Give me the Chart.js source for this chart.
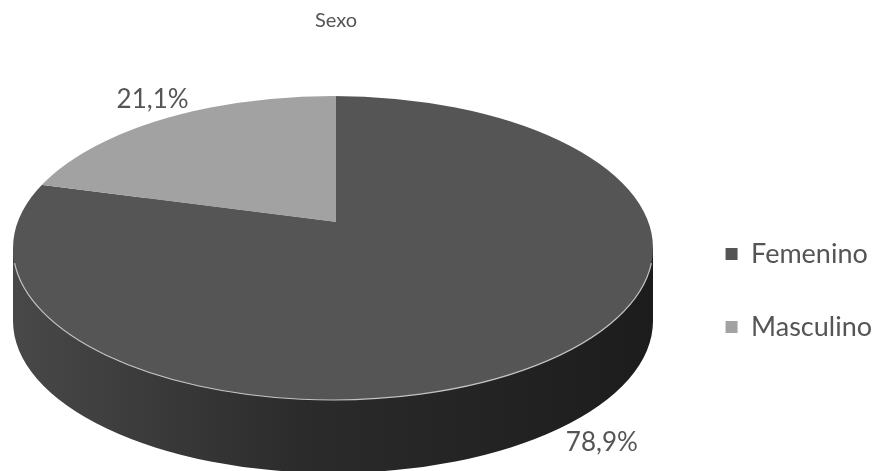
<!DOCTYPE html>
<html>
<head>
<meta charset="utf-8">
<style>
  html, body { margin: 0; padding: 0; background: #fff; }
  canvas { display: block; }
</style>
<script src="https://cdn.jsdelivr.net/npm/chart.js@4/dist/chart.umd.min.js"></script>
</head>
<body>
<canvas id="sexoChart" width="876" height="471"></canvas>
<script>
const categories = ['Femenino', 'Masculino'];
const percentages = [78.9, 21.1];
const sliceColors = ['#555555', '#a2a2a2'];
const chartTitle = 'Sexo';

// the tilted disc: outline ellipse, apex of the wedges and thickness of the side
const disc = { x: 333, y: 248, rx: 320, ry: 152, apexX: 336, apexY: 222, depth: 73 };
const tilt = 0.503;
const labelRx = [432, 298];
const labelRy = [280, 155];

function arcTransform(ctx, arc) {
  const k = 560 / arc.outerRadius;
  ctx.translate(disc.apexX, disc.apexY);
  ctx.scale(k, k * tilt);
  ctx.translate(-arc.x, -arc.y);
}

const tiltedPie = {
  id: 'tiltedPie',
  afterLayout(chart) {
    chart.legend.left += 6;
    chart.legend.top += 55;
    chart.legend.bottom += 55;
    chart.titleBlock.left = disc.apexX - 100;
    chart.titleBlock.right = disc.apexX + 100;
    chart.titleBlock.top = 0;
    chart.titleBlock.bottom = 45;
  },
  beforeDatasetsDraw(chart) {
    const ctx = chart.ctx;
    const arcs = chart.getDatasetMeta(0).data;
    const main = arcs[0];
    const k = 560 / main.outerRadius;

    // side of the disc: the big slice again, darker, clipped to the extruded outline
    ctx.save();
    ctx.beginPath();
    ctx.ellipse(disc.x, disc.y + disc.depth, disc.rx, disc.ry, 0, 0, Math.PI * 2);
    ctx.closePath();
    ctx.rect(disc.x - disc.rx, disc.y, disc.rx * 2, disc.depth);
    ctx.clip();
    arcTransform(ctx, main);
    const side = ctx.createLinearGradient(main.x - disc.rx / k, 0, main.x + disc.rx / k, 0);
    side.addColorStop(0, '#484848');
    side.addColorStop(0.45, '#2b2b2b');
    side.addColorStop(1, '#1c1c1c');
    const saved = main.options;
    main.options = Object.assign(Object.create(saved), { backgroundColor: side });
    main.draw(ctx);
    main.options = saved;
    ctx.restore();

    // top face: the library draws the slices next, inside this clip and transform
    ctx.save();
    ctx.beginPath();
    ctx.ellipse(disc.x, disc.y, disc.rx, disc.ry, 0, 0, Math.PI * 2);
    ctx.clip();
    arcTransform(ctx, main);
  },
  afterDatasetsDraw(chart) {
    const ctx = chart.ctx;
    ctx.restore();

    ctx.beginPath();
    ctx.ellipse(disc.x, disc.y, disc.rx, disc.ry, 0, 0.1, Math.PI - 0.1);
    ctx.strokeStyle = '#c4c4c4';
    ctx.lineWidth = 1.2;
    ctx.stroke();

    ctx.font = '26px Lato';
    ctx.fillStyle = '#555555';
    ctx.textAlign = 'center';
    ctx.textBaseline = 'middle';
    chart.getDatasetMeta(0).data.forEach((arc, i) => {
      const mid = (arc.startAngle + arc.endAngle) / 2;
      const text = percentages[i].toFixed(1).replace('.', ',') + '%';
      ctx.fillText(text, disc.apexX + Math.cos(mid) * labelRx[i], disc.apexY + Math.sin(mid) * labelRy[i]);
    });
  }
};

new Chart(document.getElementById('sexoChart').getContext('2d'), {
  type: 'pie',
  data: {
    labels: categories,
    datasets: [{
      data: percentages,
      backgroundColor: sliceColors,
      borderWidth: 0,
      clip: false
    }]
  },
  options: {
    responsive: false,
    animation: false,
    plugins: {
      tooltip: { enabled: false },
      title: {
        display: true,
        text: chartTitle,
        color: '#555555',
        font: { family: 'Lato', size: 20, weight: 'normal' },
        padding: { top: 9, bottom: 10 }
      },
      legend: {
        position: 'right',
        labels: {
          boxWidth: 12,
          boxHeight: 12,
          color: '#555555',
          padding: 46,
          font: { family: 'Lato', size: 27 }
        }
      }
    }
  },
  plugins: [tiltedPie]
});
</script>
</body>
</html>
